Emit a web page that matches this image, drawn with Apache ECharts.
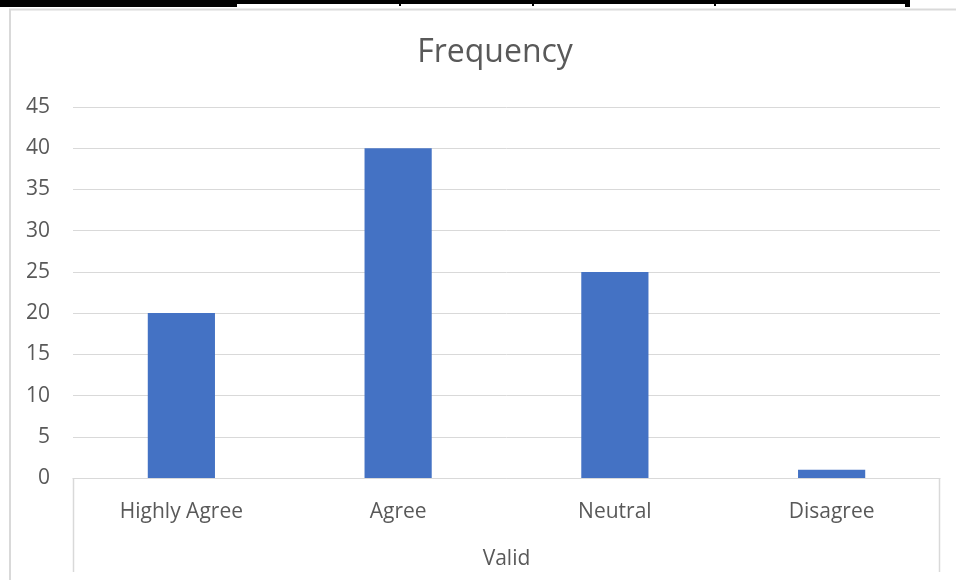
<!DOCTYPE html>
<html>
<head>
<meta charset="utf-8">
<script src="https://cdn.jsdelivr.net/npm/echarts@6/dist/echarts.min.js"></script>
<style>
  html, body { margin: 0; padding: 0; background: #ffffff; }
  #chart { width: 956px; height: 580px; }
</style>
</head>
<body>
<div id="chart"></div>
<script>
// Survey responses: frequency per answer
const categories = ['Highly Agree', 'Agree', 'Neutral', 'Disagree'];
const frequency = [20, 40, 25, 1];
const groupLabel = 'Valid';
const titleText = 'Frequency';

const FONT = '"Open Sans", Lato, sans-serif';
const TEXT = '#595959';
const LINE = '#d9d9d9';

const gridLeft = 73, gridRight = 16, gridTop = 107, gridBottom = 102;
const axisY = 580 - gridBottom;

const chart = echarts.init(document.getElementById('chart'));
chart.setOption({
  animation: false,
  title: {
    text: titleText,
    left: 490,
    textAlign: 'center',
    top: 32,
    textStyle: { fontFamily: FONT, fontSize: 32, fontWeight: 'normal', color: TEXT }
  },
  grid: { left: gridLeft, right: gridRight, top: gridTop, bottom: gridBottom, containLabel: false },
  xAxis: {
    type: 'category',
    data: categories,
    axisLine: { lineStyle: { color: LINE, width: 1 } },
    axisTick: { show: false },
    axisLabel: { color: TEXT, fontFamily: FONT, fontSize: 21, margin: 24 },
    name: groupLabel,
    nameLocation: 'middle',
    nameGap: 71,
    nameTextStyle: { color: TEXT, fontFamily: FONT, fontSize: 21 }
  },
  yAxis: {
    type: 'value',
    min: 0,
    max: 45,
    interval: 5,
    axisLine: { show: false },
    axisTick: { show: false },
    splitLine: { lineStyle: { color: LINE, width: 1 } },
    axisLabel: { color: TEXT, fontFamily: FONT, fontSize: 21, margin: 23, padding: [3, 0, 0, 0] }
  },
  series: [{
    type: 'bar',
    data: frequency,
    barWidth: '31%',
    itemStyle: { color: '#4472c4' }
  }],
  graphic: [
    // outer chart frame (top and left edges)
    { type: 'polyline', silent: true, z: 10,
      shape: { points: [[10, 580], [10, 9.5], [956, 9.5]] },
      style: { stroke: '#d9d9d9', lineWidth: 2, fill: null } },
    // group bracket lines under the category axis
    { type: 'line', silent: true, z: 10,
      shape: { x1: gridLeft + 0.5, y1: axisY, x2: gridLeft + 0.5, y2: 572 },
      style: { stroke: LINE, lineWidth: 1.5 } },
    { type: 'line', silent: true, z: 10,
      shape: { x1: 956 - gridRight - 0.5, y1: axisY, x2: 956 - gridRight - 0.5, y2: 572 },
      style: { stroke: LINE, lineWidth: 1.5 } },
    // table rule along the top
    { type: 'rect', silent: true, z: 20, shape: { x: 0, y: 0, width: 235, height: 7 }, style: { fill: '#000' } },
    { type: 'rect', silent: true, z: 20, shape: { x: 0, y: 0, width: 910, height: 4 }, style: { fill: '#000' } },
    { type: 'rect', silent: true, z: 20, shape: { x: 905, y: 0, width: 5, height: 7 }, style: { fill: '#000' } },
    { type: 'rect', silent: true, z: 20, shape: { x: 234, y: 0, width: 3, height: 7 }, style: { fill: '#000' } },
    { type: 'rect', silent: true, z: 20, shape: { x: 399, y: 0, width: 2, height: 6 }, style: { fill: '#000' } },
    { type: 'rect', silent: true, z: 20, shape: { x: 532, y: 0, width: 2, height: 6 }, style: { fill: '#000' } },
    { type: 'rect', silent: true, z: 20, shape: { x: 714, y: 0, width: 2, height: 6 }, style: { fill: '#000' } }
  ]
});
</script>
</body>
</html>
